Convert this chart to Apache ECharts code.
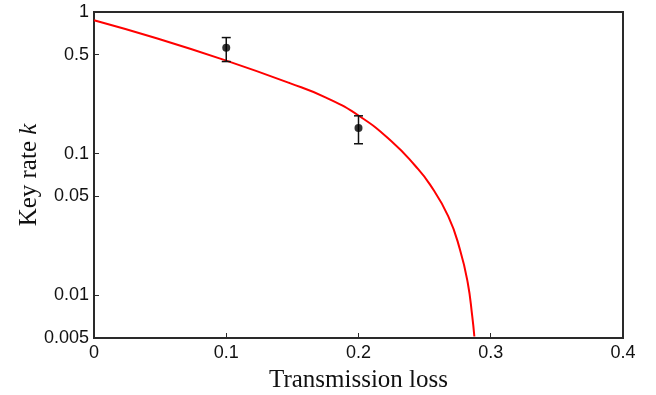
<!DOCTYPE html>
<html>
<head>
<meta charset="utf-8">
<script src="https://cdn.jsdelivr.net/npm/echarts@6/dist/echarts.min.js"></script>
<style>html,body{margin:0;padding:0;background:#fff}#c{width:656px;height:395px}</style>
</head>
<body>
<div id="c"></div>
<script>
// Theory curve (red)
const curveLoss = [0, 0.0473, 0.0978, 0.148, 0.175, 0.2011, 0.2251, 0.2427, 0.2541, 0.2679, 0.2767, 0.2826, 0.2860, 0.2876];
const curveRate = [0.875, 0.653, 0.461, 0.315, 0.25, 0.183, 0.122, 0.0825, 0.0605, 0.0361, 0.0211, 0.01227, 0.00714, 0.00512];
// Measured points with error bars
const pointLoss = [0.1, 0.2];
const pointRate = [0.56, 0.152];
const pointLow = [0.447, 0.1175];
const pointHigh = [0.66, 0.185];
// Tick labels
const xTicks = [0, 0.1, 0.2, 0.3, 0.4];
const yTicks = [0.005, 0.01, 0.05, 0.1, 0.5, 1];

const chart = echarts.init(document.getElementById('c'));
const frame = '#2a2a2a';
chart.setOption({
  animation: false,
  grid: {left: 94, right: 33, top: 12, bottom: 57, outerBoundsMode: 'none', containLabel: false,
    show: true, borderColor: frame, borderWidth: 2, backgroundColor: 'transparent'},
  xAxis: {
    type: 'value', min: 0, max: 0.4, interval: 0.1,
    name: 'Transmission loss', nameLocation: 'middle', nameGap: 30, nameMoveOverlap: false,
    nameTextStyle: {fontFamily: 'Liberation Serif', fontSize: 25, color: '#111'},
    axisLine: {show: true, lineStyle: {color: frame, width: 2}},
    axisTick: {show: true, inside: true, length: 5, lineStyle: {color: frame, width: 1}},
    splitLine: {show: false},
    axisLabel: {fontFamily: 'Liberation Sans', fontSize: 18, color: '#111', margin: 6,
      customValues: xTicks, formatter: v => String(v)}
  },
  yAxis: {
    type: 'log', logBase: 10, min: 0.005, max: 1,
    name: '{n|Key rate }{k|k}', nameLocation: 'middle', nameGap: 52, nameMoveOverlap: false,
    nameTextStyle: {fontFamily: 'Liberation Serif', fontSize: 25, color: '#111',
      rich: {n: {fontFamily: 'Liberation Serif', fontSize: 25, color: '#111'},
             k: {fontFamily: 'Liberation Serif', fontSize: 25, fontStyle: 'italic', color: '#111'}}},
    axisLine: {show: true, lineStyle: {color: frame, width: 2}},
    axisTick: {show: true, inside: true, length: 5, customValues: yTicks, lineStyle: {color: frame, width: 1}},
    minorTick: {show: false},
    splitLine: {show: false},
    axisLabel: {fontFamily: 'Liberation Sans', fontSize: 18, color: '#111', margin: 5,
      customValues: yTicks, formatter: v => String(+v.toPrecision(3))}
  },
  series: [
    {
      type: 'line', data: curveLoss.map((x, i) => [x, curveRate[i]]),
      showSymbol: false, smooth: 0.5,
      lineStyle: {color: '#ff0000', width: 2}, z: 2
    },
    {
      type: 'custom', z: 3,
      data: pointLoss.map((x, i) => [x, pointLow[i], pointHigh[i]]),
      renderItem: (params, api) => {
        const lo = api.coord([api.value(0), api.value(1)]);
        const hi = api.coord([api.value(0), api.value(2)]);
        const w = 4.5;
        const st = {stroke: '#111', lineWidth: 1.5};
        return {type: 'group', children: [
          {type: 'line', shape: {x1: lo[0], y1: lo[1], x2: hi[0], y2: hi[1]}, style: st},
          {type: 'line', shape: {x1: lo[0] - w, y1: lo[1], x2: lo[0] + w, y2: lo[1]}, style: st},
          {type: 'line', shape: {x1: hi[0] - w, y1: hi[1], x2: hi[0] + w, y2: hi[1]}, style: st}
        ]};
      }
    },
    {
      type: 'scatter', z: 4, symbol: 'circle', symbolSize: 8,
      itemStyle: {color: '#000'},
      data: pointLoss.map((x, i) => [x, pointRate[i]])
    }
  ]
});
</script>
</body>
</html>
